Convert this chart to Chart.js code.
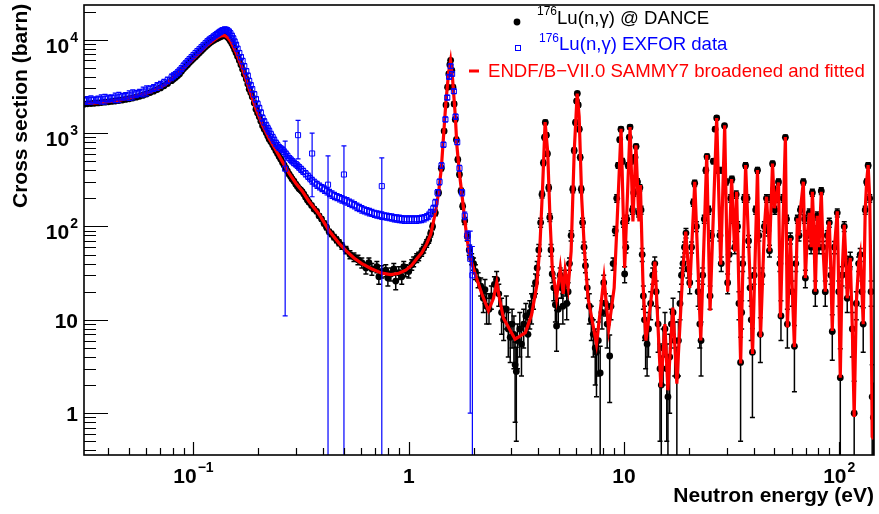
<!DOCTYPE html>
<html>
<head>
<meta charset="utf-8">
<script src="https://cdn.jsdelivr.net/npm/chart.js@4/dist/chart.umd.min.js"></script>
<style>
  html, body { margin: 0; padding: 0; background: #fff; }
  canvas { display: block; }
</style>
</head>
<body>
<canvas id="xsChart" width="879" height="514"></canvas>
<script>
// axis ranges (eV, barn)
const xMin = 0.031, xMax = 145;
const yMin = 0.357, yMax = 23500;

const xTickValues = [0.1, 1, 10, 100];
const xTickBase = ["10", "1", "10", "10"];
const xTickExp = ["\u22121", "", "", "2"];
const yTickValues = [1, 10, 100, 1000, 10000];
const yTickBase = ["1", "10", "10", "10", "10"];
const yTickExp = ["", "", "2", "3", "4"];

const xTitle = "Neutron energy (eV)";
const yTitle = "Cross section (barn)";
const legendLabels = ["Lu(n,\u03b3) @ DANCE", "Lu(n,\u03b3) EXFOR data", "ENDF/B\u2212VII.0 SAMMY7 broadened and fitted"];
const legendIsotope = "176";

// DANCE measurement: [energy, cross section, error]
const dancePoints = [
  [0.0310, 2040, 40], [0.0321, 2055, 40], [0.0334, 2070, 40], [0.0346, 2085, 40], [0.0360, 2100, 40],
  [0.0373, 2120, 40], [0.0388, 2140, 40], [0.0402, 2160, 40], [0.0417, 2180, 40], [0.0433, 2205, 45],
  [0.0450, 2230, 45], [0.0467, 2260, 45], [0.0484, 2290, 45], [0.0503, 2330, 45], [0.0522, 2370, 45],
  [0.0542, 2420, 50], [0.0562, 2470, 50], [0.0584, 2540, 50], [0.0606, 2620, 50], [0.0629, 2710, 55],
  [0.0653, 2810, 55], [0.0678, 2920, 60], [0.0703, 3040, 60], [0.0730, 3200, 60], [0.0758, 3390, 65],
  [0.0791, 3640, 70], [0.0808, 3790, 70], [0.0825, 3940, 75], [0.0843, 4100, 75], [0.0861, 4290, 80],
  [0.0880, 4580, 85], [0.0899, 4880, 90], [0.0918, 5120, 95], [0.0938, 5380, 100], [0.0958, 5680, 105],
  [0.0979, 5980, 110], [0.1000, 6280, 115], [0.1022, 6580, 120], [0.1043, 6900, 125], [0.1066, 7260, 130],
  [0.1089, 7620, 135], [0.1112, 7980, 140], [0.1137, 8380, 145], [0.1161, 8780, 150], [0.1186, 9150, 155],
  [0.1212, 9480, 160], [0.1238, 9800, 165], [0.1265, 10080, 170], [0.1285, 10300, 175], [0.1306, 10480, 180],
  [0.1327, 10700, 180], [0.1348, 10880, 180], [0.1370, 11000, 185], [0.1393, 11080, 190], [0.1415, 10950, 185],
  [0.1437, 10680, 180], [0.1461, 10200, 175], [0.1484, 9680, 170], [0.1508, 9100, 160], [0.1531, 8480, 150],
  [0.1553, 7850, 140], [0.1577, 7260, 130], [0.1603, 6600, 120], [0.1633, 5980, 110], [0.1661, 5380, 100],
  [0.1691, 4810, 90], [0.1722, 4250, 80], [0.1759, 3780, 75], [0.1788, 3350, 65], [0.1815, 2950, 60],
  [0.1846, 2700, 55], [0.1875, 2440, 50], [0.1916, 2100, 45], [0.1951, 1800, 40], [0.1985, 1640, 38],
  [0.2021, 1490, 35], [0.2056, 1340, 32], [0.2093, 1200, 30], [0.2132, 1100, 28], [0.2178, 1010, 25],
  [0.2213, 930, 24], [0.2248, 860, 22], [0.2289, 805, 21], [0.2333, 750, 20], [0.2371, 700, 19],
  [0.2415, 645, 18], [0.2457, 605, 17], [0.2500, 560, 16], [0.2544, 525, 15], [0.2591, 485, 14],
  [0.2637, 452, 14], [0.2685, 420, 13], [0.2732, 392, 12], [0.2782, 362, 12], [0.2828, 342, 11],
  [0.2873, 322, 11], [0.2929, 305, 10], [0.2988, 283, 10], [0.3041, 268, 10], [0.3095, 254, 9],
  [0.3145, 246, 9], [0.3196, 236, 9], [0.3255, 222, 8], [0.3318, 206, 8], [0.3382, 192, 8],
  [0.3443, 181, 7], [0.3536, 168, 7], [0.3632, 154, 7], [0.3731, 145, 7], [0.3831, 130, 6],
  [0.3935, 120, 6], [0.4042, 108, 6], [0.4150, 98, 6], [0.4266, 88, 5], [0.4377, 83, 5],
  [0.4495, 77, 5], [0.4617, 72, 5], [0.4743, 67, 5], [0.4896, 62, 5], [0.5110, 56, 5],
  [0.5334, 50, 5], [0.5564, 47, 5], [0.5808, 44, 5], [0.6053, 41, 5], [0.6324, 36, 5],
  [0.653, 41, 5], [0.674, 35, 5], [0.711, 37, 5], [0.7263, 29, 5], [0.7496, 33, 5],
  [0.7823, 34, 5], [0.80, 28, 5], [0.8255, 31, 5], [0.8523, 35, 5], [0.87, 26, 5],
  [0.8994, 32, 5], [0.9281, 29, 5], [0.9482, 37, 5], [0.9685, 34, 5], [1.0, 33, 5],
  [1.033, 39, 5], [1.054, 42, 5], [1.089, 46, 5], [1.112, 48, 5], [1.148, 53, 5],
  [1.173, 58, 6], [1.211, 66, 6], [1.238, 72, 6], [1.264, 84, 7], [1.29, 100, 8],
  [1.329, 140, 10], [1.376, 230, 15], [1.417, 420, 25], [1.46, 1050, 50], [1.49, 2000, 90],
  [1.515, 3100, 130], [1.535, 4300, 180], [1.552, 5400, 220], [1.565, 6000, 250], [1.585, 4700, 200],
  [1.605, 3100, 140], [1.625, 2050, 100], [1.645, 1400, 70], [1.665, 850, 45], [1.69, 520, 30],
  [1.72, 360, 22], [1.75, 240, 16], [1.78, 165, 12], [1.82, 115, 10], [1.87, 78, 8],
  [1.91, 56, 7], [1.96, 45, 6], [2.0, 40, 6], [2.04, 33, 6], [2.10, 27, 5],
  [2.16, 23, 5], [2.22, 17, 5], [2.26, 21, 6], [2.30, 14, 5], [2.36, 13, 4],
  [2.42, 18, 5], [2.50, 24, 5], [2.56, 27, 6], [2.62, 19, 5], [2.70, 12, 5],
  [2.76, 10, 4], [2.84, 13, 5], [2.90, 8, 4], [2.96, 6.5, 3], [3.02, 9, 4],
  [3.08, 7, 4], [3.12, 3.3, 2.5], [3.16, 2.8, 2.3], [3.2, 6, 3], [3.28, 8, 4],
  [3.34, 5.5, 3], [3.42, 9, 4], [3.5, 11, 4], [3.58, 7, 3], [3.65, 12, 4],
  [3.72, 14, 5], [3.8, 18, 5], [3.88, 25, 6], [3.95, 36, 6], [4.02, 56, 8],
  [4.1, 110, 12], [4.16, 220, 18], [4.22, 480, 30], [4.27, 900, 50], [4.31, 1300, 70],
  [4.36, 950, 50], [4.41, 600, 35], [4.47, 260, 20], [4.52, 125, 12], [4.58, 56, 8],
  [4.64, 31, 6], [4.72, 22, 6], [4.80, 14.5, 5], [4.86, 8.6, 4], [4.95, 13, 4],
  [5.05, 30, 6], [5.12, 22, 5], [5.2, 14, 5], [5.28, 28, 6], [5.35, 24, 6],
  [5.42, 15, 5], [5.5, 20, 5], [5.58, 40, 6], [5.68, 80, 10], [5.78, 250, 20],
  [5.87, 650, 40], [5.95, 1300, 70], [6.02, 2200, 100], [6.07, 2650, 120], [6.13, 2000, 100],
  [6.2, 1100, 60], [6.26, 550, 35], [6.33, 250, 20], [6.42, 110, 12], [6.52, 60, 8],
  [6.62, 38, 6], [6.75, 22, 5], [6.9, 14, 5], [7.05, 10, 4], [7.2, 7, 3],
  [7.35, 5, 3], [7.45, 4.5, 3], [7.6, 6, 3.5], [7.75, 2.7, 2.5], [7.9, 12, 4],
  [8.05, 25, 5], [8.2, 15, 4], [8.35, 9, 4], [8.58, 4.1, 2.8], [8.7, 14, 4],
  [8.9, 40, 6], [9.1, 90, 10], [9.25, 200, 18], [9.4, 450, 30], [9.55, 850, 45],
  [9.68, 1100, 60], [9.82, 500, 35], [9.95, 110, 12], [10.07, 31, 6], [10.2, 60, 8],
  [10.3, 120, 12], [10.45, 450, 30], [10.58, 900, 50], [10.67, 1160, 60], [10.8, 500, 35],
  [10.95, 150, 15], [11.1, 230, 20], [11.25, 550, 35], [11.38, 720, 40], [11.55, 300, 25],
  [11.7, 140, 14], [11.85, 260, 20], [12.0, 150, 15], [12.15, 50, 8], [12.3, 18, 5],
  [12.45, 10, 4], [12.6, 6.5, 3.5], [12.8, 5.5, 3], [13.0, 8, 4], [13.3, 15, 5],
  [13.6, 30, 6], [13.9, 40, 7], [14.1, 20, 6], [14.4, 9, 4.5], [14.7, 3, 2.5],
  [14.9, 2, 2.1], [15.2, 5, 3], [15.5, 8, 4], [15.8, 3, 2.5], [16.0, 1.5, 1.8],
  [16.3, 4, 3], [16.6, 9, 4], [16.9, 12, 5], [17.2, 6, 3.5], [17.6, 2.5, 2.6],
  [17.9, 6, 3.5], [18.2, 15, 5], [18.5, 30, 6], [18.8, 40, 7], [19.1, 60, 8],
  [19.4, 85, 10], [19.8, 35, 7], [20.2, 25, 6], [20.6, 60, 8], [21.0, 180, 15],
  [21.3, 290, 22], [21.7, 100, 12], [22.1, 20, 6], [22.5, 9, 4], [22.8, 6, 3.5],
  [23.2, 30, 6], [23.6, 120, 12], [24.0, 400, 28], [24.3, 560, 35], [24.7, 150, 15],
  [25.1, 18, 5], [25.5, 80, 10], [26.0, 500, 30], [26.5, 1100, 55], [26.95, 1450, 70],
  [27.4, 400, 28], [27.9, 80, 10], [28.3, 40, 7], [28.8, 400, 28], [29.3, 1200, 60],
  [29.8, 300, 22], [30.3, 25, 6], [30.8, 50, 8], [31.3, 200, 18], [31.7, 320, 24],
  [32.2, 120, 12], [32.7, 60, 9], [33.2, 220, 20], [33.7, 100, 12], [34.2, 15, 5],
  [34.8, 3.5, 3], [35.2, 12, 4], [35.6, 40, 7], [36.2, 200, 18], [36.7, 450, 30],
  [37.3, 200, 18], [37.9, 70, 10], [38.5, 22, 6], [39.0, 10, 4], [39.5, 4.5, 3.6],
  [40.2, 30, 6], [40.9, 150, 15], [41.7, 400, 28], [42.3, 80, 10], [43.0, 7, 3.5],
  [43.8, 30, 6], [44.9, 100, 12], [45.9, 200, 18], [46.6, 90, 11], [47.4, 55, 8],
  [48.2, 200, 18], [49.0, 470, 30], [49.6, 250, 20], [50.2, 150, 15], [51.0, 200, 18],
  [52.2, 300, 22], [53.0, 40, 7], [53.6, 11, 5], [54.8, 200, 18], [56.2, 900, 50],
  [56.9, 120, 12], [57.4, 9, 4], [58.3, 40, 7], [59.3, 75, 10], [60.5, 20, 6],
  [61.9, 5.2, 3.5], [62.8, 40, 7], [63.9, 120, 12], [65.0, 80, 10], [66.0, 150, 15],
  [68.1, 300, 22], [69.0, 120, 12], [69.6, 28, 6], [71.0, 80, 10], [72.6, 140, 14],
  [74.0, 60, 9], [75.0, 230, 20], [76.2, 90, 11], [77.4, 20, 6], [79.0, 130, 13],
  [80.5, 60, 9], [82.5, 240, 20], [84.0, 60, 9], [86.1, 20, 6], [88.0, 80, 10],
  [89.9, 110, 12], [91.5, 30, 6], [92.8, 7.5, 3.8], [95.0, 60, 9], [97.9, 140, 14],
  [99.5, 20, 6], [101.1, 2.4, 2.5], [103, 30, 7], [105.5, 100, 12], [107.5, 40, 8],
  [108.9, 17, 5], [111, 35, 7], [112.5, 45, 8], [115, 8, 4], [117.3, 1, 1.2],
  [120, 15, 5], [123, 40, 7], [125.1, 50, 8], [127.5, 20, 6], [129.2, 9, 4.5],
  [132, 150, 15], [134, 300, 22], [136.2, 450, 30], [138.5, 200, 18], [140.5, 20, 6],
  [142.2, 1.5, 1.8], [144, 0.9, 1.2],
];

// EXFOR compilation: [energy, cross section, error]
const exforPoints = [
  [0.0310, 2230, 180], [0.0321, 2240, 220], [0.0334, 2250, 250], [0.0346, 2265, 180], [0.0360, 2280, 200],
  [0.0373, 2300, 260], [0.0388, 2320, 280], [0.0402, 2345, 200], [0.0417, 2370, 200], [0.0433, 2395, 280],
  [0.0450, 2420, 300], [0.0467, 2455, 210], [0.0484, 2490, 220], [0.0503, 2530, 300], [0.0522, 2580, 320],
  [0.0542, 2630, 230], [0.0562, 2690, 240], [0.0584, 2770, 330], [0.0606, 2850, 350], [0.0629, 2950, 260],
  [0.0653, 3050, 250], [0.0678, 3170, 300], [0.0703, 3300, 280], [0.0730, 3480, 280], [0.0758, 3680, 300],
  [0.0791, 3950, 320], [0.0808, 4100, 300], [0.0825, 4250, 300], [0.0843, 4440, 320], [0.0861, 4650, 350],
  [0.0880, 4930, 350], [0.0899, 5250, 350], [0.0918, 5550, 380], [0.0938, 5850, 400], [0.0958, 6170, 400],
  [0.0979, 6500, 400], [0.1000, 6850, 430], [0.1022, 7200, 450], [0.1043, 7550, 480], [0.1066, 7900, 500],
  [0.1089, 8300, 520], [0.1112, 8700, 550], [0.1137, 9150, 580], [0.1161, 9600, 600], [0.1186, 10000, 620],
  [0.1212, 10400, 650], [0.1238, 10800, 680], [0.1265, 11200, 700], [0.1285, 11500, 720], [0.1306, 11800, 750],
  [0.1327, 12100, 780], [0.1348, 12400, 800], [0.1370, 12650, 820], [0.1393, 12800, 850], [0.1415, 12750, 850],
  [0.1437, 12600, 800], [0.1461, 12200, 780], [0.1484, 11700, 750], [0.1508, 11000, 700], [0.1531, 10300, 650],
  [0.1553, 9550, 600], [0.1577, 8800, 550], [0.1603, 8000, 500], [0.1633, 7200, 450], [0.1661, 6500, 420],
  [0.1691, 5900, 400], [0.1722, 5200, 350], [0.1759, 4600, 300], [0.1788, 4100, 280], [0.1815, 3600, 250],
  [0.1846, 3250, 220], [0.1875, 2950, 200], [0.1916, 2600, 180], [0.1951, 2300, 160], [0.1985, 2050, 150],
  [0.2021, 1850, 130], [0.2056, 1650, 120], [0.2093, 1450, 110], [0.2132, 1320, 105], [0.2178, 1200, 100],
  [0.2213, 1120, 90], [0.2248, 1050, 80], [0.2289, 970, 75], [0.2333, 900, 70], [0.2371, 840, 65],
  [0.2415, 780, 60], [0.2457, 740, 55], [0.2500, 700, 50], [0.2544, 680, 48], [0.2591, 660, 45],
  [0.2637, 630, 42], [0.2685, 600, 40], [0.2732, 570, 38], [0.2782, 540, 35], [0.2828, 520, 34],
  [0.2873, 500, 33], [0.2929, 480, 32], [0.2988, 465, 31], [0.3041, 448, 30], [0.3095, 430, 30],
  [0.3162, 410, 30], [0.3231, 390, 29], [0.3318, 368, 28], [0.3406, 345, 27], [0.3480, 327, 26],
  [0.3557, 310, 26], [0.3651, 295, 25], [0.3751, 280, 24], [0.3851, 269, 23], [0.3955, 258, 22],
  [0.4063, 248, 22], [0.4173, 238, 21], [0.4284, 229, 20], [0.4400, 220, 20], [0.4519, 213, 19],
  [0.4642, 207, 18], [0.4768, 201, 18], [0.4896, 196, 18], [0.5029, 191, 17], [0.5164, 186, 17],
  [0.5305, 180, 16], [0.5446, 175, 16], [0.5595, 169, 15], [0.5745, 163, 15], [0.5900, 158, 14],
  [0.6053, 153, 14], [0.6223, 149, 13], [0.6391, 146, 13], [0.6564, 143, 13], [0.6741, 140, 12],
  [0.6923, 137, 12], [0.7110, 135, 12], [0.7302, 133, 12], [0.7496, 131, 12], [0.7702, 129, 11],
  [0.7908, 128, 11], [0.8124, 126, 11], [0.8341, 125, 11], [0.8568, 123, 11], [0.8799, 122, 11],
  [0.9037, 121, 11], [0.9281, 120, 11], [0.9532, 119, 11], [0.9788, 119, 11], [1.0054, 119, 11],
  [1.033, 119, 11], [1.0604, 119, 11], [1.089, 119, 11], [1.1184, 120, 11], [1.148, 121, 11],
  [1.1797, 123, 11], [1.2115, 126, 11], [1.238, 131, 11], [1.264, 140, 12], [1.30, 155, 13],
  [1.329, 180, 15], [1.36, 230, 18], [1.39, 300, 22], [1.42, 450, 30], [1.45, 750, 45],
  [1.48, 1400, 80], [1.51, 2400, 130], [1.54, 4000, 200], [1.565, 5200, 260], [1.59, 4300, 220],
  [1.62, 2800, 150], [1.65, 1500, 90], [1.68, 800, 50], [1.72, 420, 30], [1.77, 230, 18],
  [1.82, 130, 12], [1.87, 80, 9], [1.92, 55, 8],
  [0.2666, 415, 404], [0.306, 950, 420], [0.3557, 604, 396], [0.4217, 280, 290],
  [0.5, 360, 368], [0.7496, 270, 272], [1.93, 45, 44], [1.975, 30, 31],
];

// ENDF/B-VII.0 curve: [energy, cross section]
const endfCurve = [
  [0.031, 2050], [0.0367, 2120], [0.0454, 2250], [0.0533, 2450], [0.0626, 2730], [0.0696, 3050],
  [0.0747, 3350], [0.0817, 4020], [0.0892, 4830], [0.0979, 5970], [0.1066, 7280], [0.1149, 8600],
  [0.1229, 9680], [0.1292, 10500], [0.1348, 11000], [0.1393, 11100], [0.1437, 10600], [0.1484, 9700],
  [0.1577, 7280], [0.1691, 4830], [0.1815, 2960], [0.1951, 1810], [0.2093, 1210], [0.2248, 870],
  [0.2415, 655], [0.2591, 491], [0.2782, 370], [0.2988, 290], [0.3196, 240], [0.3443, 185],
  [0.3831, 135], [0.4266, 90], [0.4743, 66], [0.511, 55], [0.5564, 46], [0.6053, 40],
  [0.674, 35], [0.7496, 31.6], [0.8255, 30.5], [0.8994, 31.5], [0.9685, 34], [1.033, 38.5],
  [1.089, 45], [1.148, 52], [1.211, 65], [1.264, 82], [1.329, 140], [1.376, 230],
  [1.417, 420], [1.452, 950], [1.488, 2140], [1.532, 4450], [1.564, 5950], [1.598, 3790],
  [1.645, 1540], [1.673, 740], [1.717, 385], [1.766, 220], [1.817, 123], [1.862, 75],
  [1.931, 46], [2.036, 31], [2.185, 19], [2.345, 12.5], [2.475, 17], [2.564, 25],
  [2.638, 17], [2.754, 10.4], [3.12, 6.2], [3.48, 7.3], [3.72, 11.3], [3.93, 23],
  [4.07, 63], [4.19, 278], [4.30, 1310], [4.42, 628], [4.53, 123], [4.64, 36.7],
  [4.86, 17], [5.06, 36], [5.22, 19], [5.33, 34], [5.50, 22], [5.68, 54],
  [5.87, 630], [6.06, 2650], [6.19, 1500], [6.36, 200], [6.55, 55], [6.81, 17],
  [7.45, 5.5], [8.07, 28], [8.49, 8], [9.0, 22], [9.29, 113], [9.69, 1110],
  [10.07, 36], [10.67, 1160], [11.0, 113], [11.36, 740], [11.73, 113], [11.92, 278],
  [12.24, 26], [12.64, 6], [13.3, 15], [13.92, 42], [14.84, 1.9], [15.49, 9],
  [15.99, 1.76], [16.86, 13.5], [17.6, 2.07], [18.75, 33], [19.36, 88], [20.21, 22],
  [21.32, 301], [22.73, 6], [24.23, 580], [25.1, 12.5], [26.95, 1450], [28.13, 39],
  [29.36, 1210], [30.31, 20], [31.62, 321], [32.66, 54], [33.36, 235], [34.82, 3.4],
  [35.57, 28], [36.73, 453], [37.9, 69], [38.73, 20], [39.55, 4.3], [41.7, 401],
  [43.06, 6.5], [44.96, 104], [45.93, 208], [47.42, 54], [48.96, 472], [50.0, 157],
  [52.2, 296], [53.3, 10.6], [56.2, 906], [57.4, 8.3], [59.3, 75], [61.9, 5.1],
  [63.9, 122], [65.0, 80], [66.0, 150], [68.1, 301], [69.6, 28], [71.0, 80],
  [72.6, 140], [74.0, 60], [75.0, 235], [76.2, 90], [77.4, 20], [79.0, 130],
  [80.5, 60], [82.5, 235], [84.0, 60], [86.1, 20], [88.0, 80], [89.9, 113],
  [91.5, 30], [92.8, 7.6], [95.0, 60], [97.9, 145], [99.5, 20], [101.1, 2.4],
  [103, 30], [105.5, 104], [107.5, 40], [108.9, 17], [111, 35], [112.5, 46],
  [115, 8], [117.3, 0.91], [120, 15], [123, 40], [125.1, 50], [127.5, 20],
  [129.2, 9], [132, 150], [134, 300], [136.2, 453], [138.5, 200], [140.5, 20],
  [142.2, 0.56], [145, 0.53],
];

const FONT = "'Liberation Sans', Arial, Helvetica, sans-serif";

function toXY(rows) {
  return rows.map((r) => ({ x: r[0], y: r[1], err: r[2] }));
}

function drawErrorBars(chart, dataset, color, width, cap) {
  const { ctx, chartArea: a } = chart;
  const xs = chart.scales.x, ys = chart.scales.y;
  ctx.save();
  ctx.beginPath();
  ctx.rect(a.left, a.top, a.right - a.left, a.bottom - a.top);
  ctx.clip();
  ctx.strokeStyle = color;
  ctx.lineWidth = width;
  dataset.data.forEach((p) => {
    if (!p.err) return;
    const px = xs.getPixelForValue(p.x);
    const top = ys.getPixelForValue(p.y + p.err);
    const lo = p.y - p.err;
    const bot = lo > 0 ? ys.getPixelForValue(lo) : a.bottom + 5;
    ctx.beginPath();
    ctx.moveTo(px, top);
    ctx.lineTo(px, bot);
    ctx.moveTo(px - cap, top);
    ctx.lineTo(px + cap, top);
    if (lo > 0) {
      ctx.moveTo(px - cap, bot);
      ctx.lineTo(px + cap, bot);
    }
    ctx.stroke();
  });
  ctx.restore();
}

// label like 10^n: base text plus raised exponent
function drawPowerLabel(ctx, base, exp, x, baseline, align) {
  ctx.font = "bold 21px " + FONT;
  const wb = ctx.measureText(base).width;
  ctx.font = "bold 14px " + FONT;
  const we = exp ? ctx.measureText(exp).width + 1 : 0;
  let left = x;
  if (align === "right") left = x - wb - we;
  if (align === "center") left = x - (wb + we) / 2;
  ctx.textAlign = "left";
  ctx.textBaseline = "alphabetic";
  ctx.font = "bold 21px " + FONT;
  ctx.fillText(base, left, baseline);
  if (exp) {
    ctx.font = "bold 14px " + FONT;
    ctx.fillText(exp, left + wb + 1, baseline - 11);
  }
}

function minorValues(min, max) {
  const out = [];
  for (let n = -2; n <= 4; n++) {
    for (let k = 2; k <= 9; k++) {
      const v = k * Math.pow(10, n);
      if (v > min && v < max) out.push(v);
    }
  }
  return out;
}

const rootFrame = {
  id: "rootFrame",
  beforeDatasetDraw(chart, args) {
    const ds = chart.data.datasets[args.index];
    if (ds.errColor) drawErrorBars(chart, ds, ds.errColor, ds.errWidth, ds.errCap);
  },
  afterDraw(chart) {
    const { ctx, chartArea: a } = chart;
    const xs = chart.scales.x, ys = chart.scales.y;
    ctx.save();
    ctx.strokeStyle = "#000";
    ctx.fillStyle = "#000";
    ctx.lineWidth = 1.6;
    ctx.strokeRect(a.left, a.top, a.right - a.left, a.bottom - a.top);

    ctx.lineWidth = 1.2;
    ctx.beginPath();
    yTickValues.forEach((v) => {
      const py = Math.round(ys.getPixelForValue(v)) + 0.5;
      ctx.moveTo(a.left, py);
      ctx.lineTo(a.left + 24, py);
    });
    minorValues(yMin, yMax).forEach((v) => {
      if (yTickValues.includes(v)) return;
      const py = Math.round(ys.getPixelForValue(v)) + 0.5;
      ctx.moveTo(a.left, py);
      ctx.lineTo(a.left + 12, py);
    });
    xTickValues.forEach((v) => {
      const px = Math.round(xs.getPixelForValue(v)) + 0.5;
      ctx.moveTo(px, a.bottom);
      ctx.lineTo(px, a.bottom - 13);
    });
    minorValues(xMin, xMax).forEach((v) => {
      if (xTickValues.some((t) => Math.abs(t - v) < 1e-9)) return;
      const px = Math.round(xs.getPixelForValue(v)) + 0.5;
      ctx.moveTo(px, a.bottom);
      ctx.lineTo(px, a.bottom - 7);
    });
    ctx.stroke();

    yTickValues.forEach((v, i) => {
      const py = ys.getPixelForValue(v);
      const shift = yTickExp[i] ? 13 : 8;
      drawPowerLabel(ctx, yTickBase[i], yTickExp[i], a.left - 6, py + shift, "right");
    });
    xTickValues.forEach((v, i) => {
      drawPowerLabel(ctx, xTickBase[i], xTickExp[i], xs.getPixelForValue(v), a.bottom + 28, "center");
    });

    ctx.font = "bold 21px " + FONT;
    ctx.textAlign = "right";
    ctx.fillText(xTitle, a.right, 502);
    ctx.save();
    ctx.translate(27, 208);
    ctx.rotate(-Math.PI / 2);
    ctx.textAlign = "left";
    ctx.fillText(yTitle, 0, 0);
    ctx.restore();

    // legend
    const colors = ["#000000", "#0000ff", "#ff0000"];
    ctx.fillStyle = "#000";
    ctx.beginPath();
    ctx.arc(517, 22, 3.4, 0, Math.PI * 2);
    ctx.fill();
    ctx.strokeStyle = "#0000ff";
    ctx.lineWidth = 1;
    ctx.strokeRect(515.5, 45.5, 5, 5);
    ctx.strokeStyle = "#ff0000";
    ctx.lineWidth = 3;
    ctx.beginPath();
    ctx.moveTo(469, 71);
    ctx.lineTo(479, 71);
    ctx.stroke();

    const rows = [
      { x: 537, base: 24, sup: 15 },
      { x: 539, base: 50, sup: 42 },
      { x: 488, base: 77, sup: null },
    ];
    ctx.textAlign = "left";
    rows.forEach((r, i) => {
      ctx.fillStyle = colors[i];
      let x = r.x;
      if (r.sup !== null) {
        ctx.font = "12px " + FONT;
        ctx.fillText(legendIsotope, x, r.sup);
        x += ctx.measureText(legendIsotope).width;
      }
      ctx.font = "18.6px " + FONT;
      ctx.fillText(legendLabels[i], x, r.base);
    });
    ctx.restore();
  },
};

new Chart(document.getElementById("xsChart"), {
  type: "scatter",
  data: {
    datasets: [
      {
        label: legendLabels[0],
        data: toXY(dancePoints),
        pointRadius: 3.4,
        pointBackgroundColor: "#000",
        pointBorderWidth: 0,
        errColor: "#000",
        errWidth: 1.5,
        errCap: 2.5,
        order: 3,
        clip: 0,
      },
      {
        label: legendLabels[2],
        data: toXY(endfCurve),
        showLine: true,
        borderColor: "#ff0000",
        borderWidth: 3.2,
        pointRadius: 0,
        order: 2,
        clip: 0,
      },
      {
        label: legendLabels[1],
        data: toXY(exforPoints),
        pointStyle: "rect",
        pointRadius: 3.6,
        pointBorderColor: "#0000ff",
        pointBackgroundColor: "rgba(0,0,0,0)",
        pointBorderWidth: 1,
        errColor: "#0000ff",
        errWidth: 1.2,
        errCap: 2.5,
        order: 1,
        clip: 0,
      },
    ],
  },
  options: {
    responsive: false,
    animation: false,
    devicePixelRatio: 1,
    layout: { padding: { top: 2, right: 2, left: 0, bottom: 0 } },
    plugins: { legend: { display: false }, tooltip: { enabled: false } },
    scales: {
      x: {
        type: "logarithmic",
        min: xMin,
        max: xMax,
        bounds: "data",
        grid: { display: false },
        border: { display: false },
        ticks: { display: false },
        afterFit: (s) => { s.height = 59; },
      },
      y: {
        type: "logarithmic",
        min: yMin,
        max: yMax,
        bounds: "data",
        grid: { display: false },
        border: { display: false },
        ticks: { display: false },
        afterFit: (s) => { s.width = 84; },
      },
    },
  },
  plugins: [rootFrame],
});
</script>
</body>
</html>
